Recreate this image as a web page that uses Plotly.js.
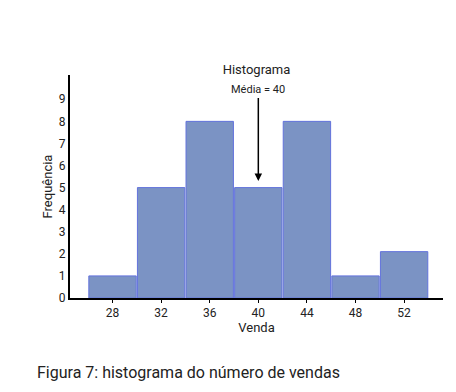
<!DOCTYPE html>
<html>
<head>
<meta charset="utf-8">
<script src="https://cdn.plot.ly/plotly-3.0.1.min.js"></script>
<style>html,body{margin:0;padding:0;background:#fff;}#chart{width:456px;height:392px;}</style>
</head>
<body>
<div id="chart"></div>
<script>
var binCenters = [28, 32, 36, 40, 44, 48, 52];
var frequencies = [1, 5, 8, 5, 8, 1, 2.1];
var yTickValues = [0, 1, 2, 3, 4, 5, 6, 7, 8, 9];
var meanValue = 40;
var meanLabel = "Média = 40";

var trace = {
  type: "bar",
  x: binCenters,
  y: frequencies,
  width: 3.9,
  marker: {color: "#7b93c4", line: {color: "#6272dc", width: 1}},
  hoverinfo: "skip"
};

var layout = {
  width: 456, height: 392,
  margin: {l: 70, r: 13, t: 75, b: 94},
  paper_bgcolor: "#fff", plot_bgcolor: "#fff",
  font: {family: "Roboto, sans-serif", color: "#222", size: 12},
  showlegend: false,
  title: {text: "Histograma", font: {size: 13, color: "#222"}, xref: "paper", x: 0.5, yref: "container", y: 0.822, yanchor: "middle"},
  xaxis: {
    range: [24.5, 55.2], tickvals: binCenters, ticks: "outside", ticklen: 3, tickcolor: "#000",
    showline: true, linecolor: "#000", linewidth: 2, showgrid: false, zeroline: false,
    tickfont: {size: 12, color: "#222"},
    title: {text: "Venda", font: {size: 13, color: "#222"}, standoff: 0}
  },
  yaxis: {
    range: [0, 10.1], tickvals: yTickValues, ticks: "",
    showline: true, linecolor: "#000", linewidth: 2, showgrid: false, zeroline: false,
    tickfont: {size: 12, color: "#222"},
    title: {text: "Frequência", font: {size: 13, color: "#222"}, standoff: 3}
  },
  annotations: [
    {x: meanValue, y: 5.3, xref: "x", yref: "y", text: meanLabel, showarrow: true,
     arrowhead: 2, arrowsize: 1, arrowwidth: 1.5, arrowcolor: "#000", ax: 0, ay: -91,
     font: {size: 11, color: "#222"}},
    {xref: "paper", yref: "paper", x: -0.093, y: -0.332, xanchor: "left", yanchor: "middle",
     text: "Figura 7: histograma do número de vendas", showarrow: false,
     font: {size: 16, color: "#222"}}
  ]
};

Plotly.newPlot("chart", [trace], layout, {displayModeBar: false, staticPlot: true});
</script>
</body>
</html>
